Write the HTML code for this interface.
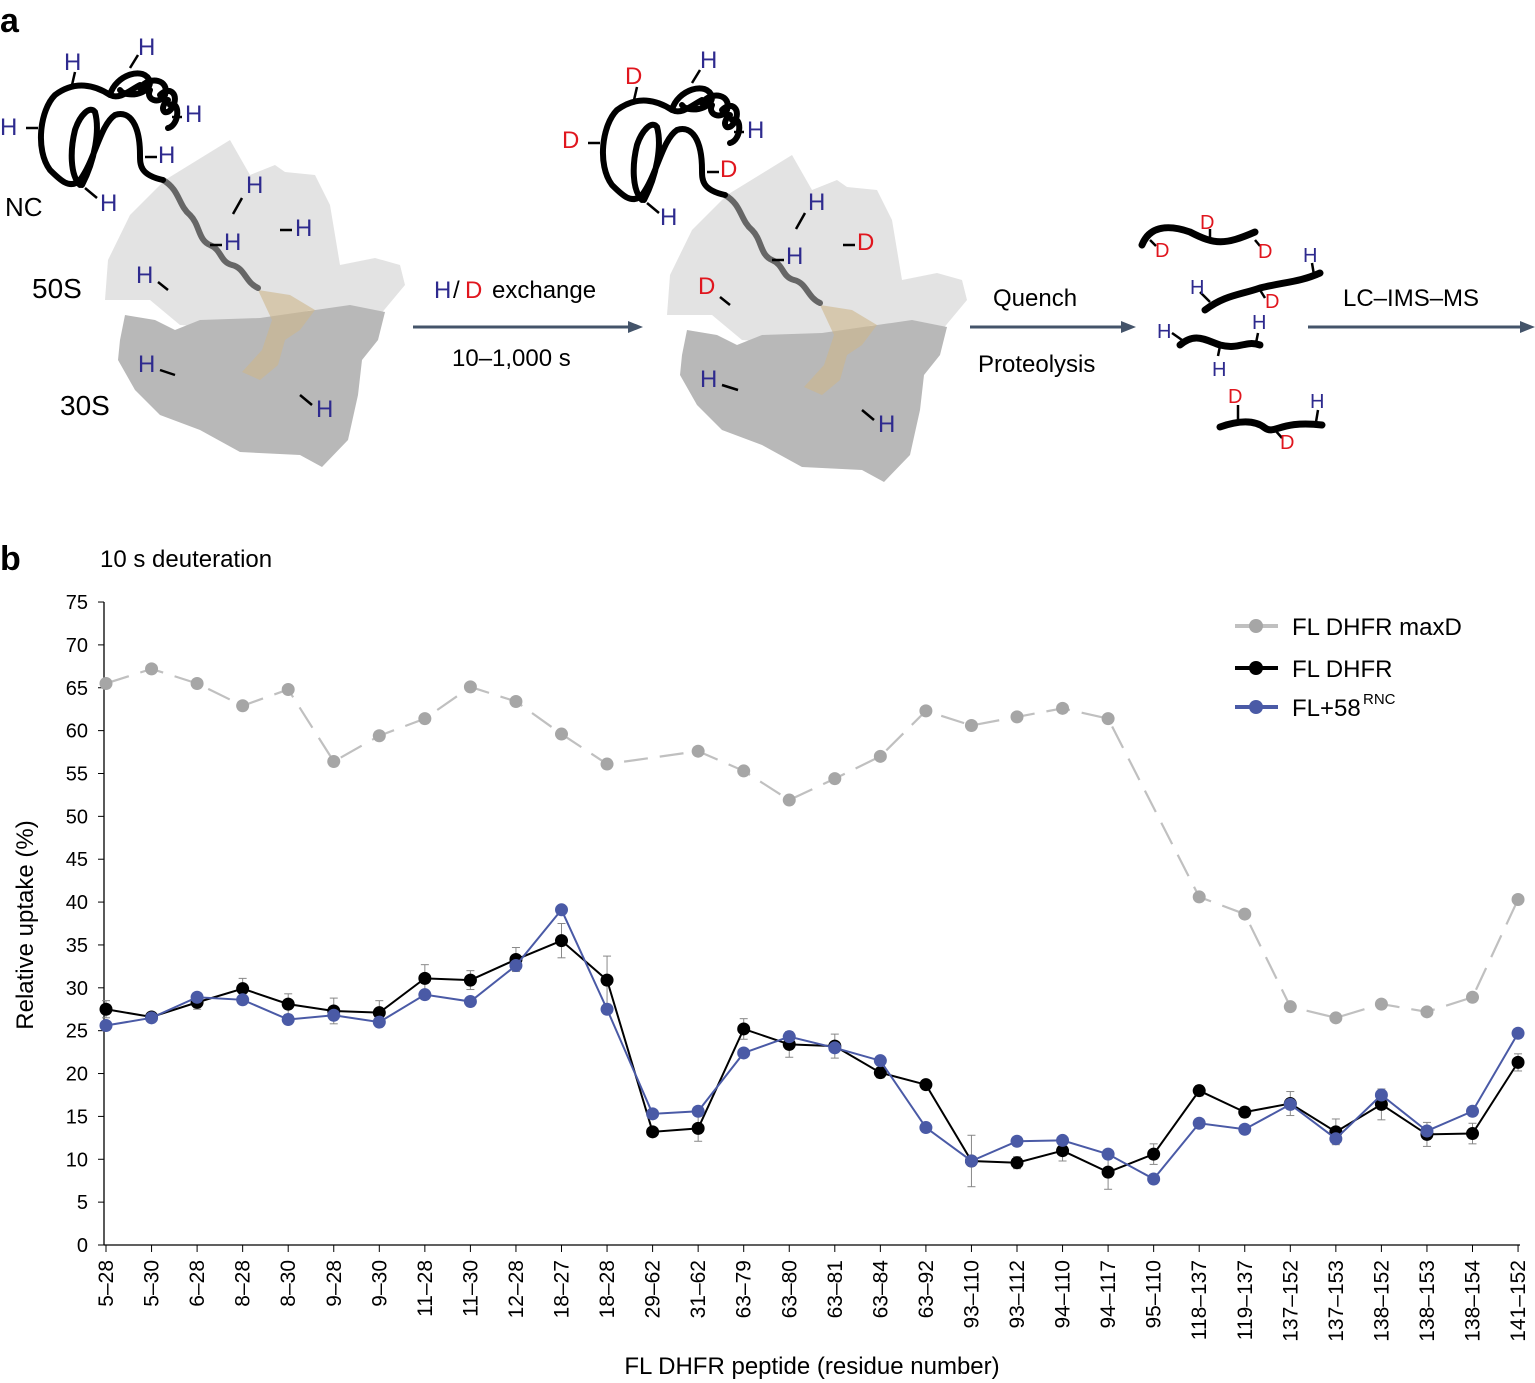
<!DOCTYPE html>
<html><head><meta charset="utf-8"><style>
body{margin:0;background:#fff;}
svg{display:block;font-family:"Liberation Sans",sans-serif;}
</style></head><body>
<svg id="s" width="1535" height="1383" viewBox="0 0 1535 1383" xmlns="http://www.w3.org/2000/svg">
<text x="0" y="32" font-size="34" font-weight="bold">a</text>
<text x="0" y="570" font-size="34" font-weight="bold">b</text>
<g id="ribo">
<polygon fill="#e3e3e3" points="165,180 230,140 250,175 275,165 285,172 315,175 330,205 340,265 375,258 400,265 405,285 380,315 310,310 250,330 180,325 150,300 105,300 108,260 130,215"/>
<polygon fill="#b8b8b8" points="125,315 155,320 175,330 200,320 260,318 350,305 385,312 378,340 362,360 358,395 348,440 322,467 300,455 240,452 200,430 160,415 135,390 118,360 120,340"/>
<path d="M258,290 L290,295 L315,310 L300,330 L285,340 L278,365 L260,380 L242,372 L262,350 L272,320 Z" fill="#cdb58a" opacity="0.6"/>
<path d="M163,180 C180,190 178,205 190,215 C200,225 198,240 210,245 C222,250 220,262 232,265 C245,268 245,282 258,288" fill="none" stroke="#666" stroke-width="6" stroke-linecap="round"/>
<path d="M163,180 C140,175 140,165 140,155 C140,125 130,110 115,115 C100,125 95,160 80,180 C70,190 60,180 50,170 C35,150 40,110 55,95 C75,80 95,85 110,95 C120,100 130,90 140,85 M82,185 C95,160 100,130 95,112 C90,105 80,115 75,130 C70,150 70,175 80,185" fill="none" stroke="#000" stroke-width="6" stroke-linecap="round"/>
<path d="M110,95 C115,75 145,65 150,82 C150,95 125,98 120,90 M140,88 C150,75 170,80 165,95 C160,105 145,100 150,90 M160,95 C170,85 180,95 172,108 C165,118 158,108 168,100 M170,105 C180,100 180,125 168,128" fill="none" stroke="#000" stroke-width="6" stroke-linecap="round"/>
</g>
<use href="#ribo" transform="translate(562,15)"/>
<g font-size="24" fill="#2e2a8e">
<text x="64" y="70">H</text><text x="138" y="55">H</text><text x="0" y="135">H</text><text x="185" y="122">H</text><text x="158" y="163">H</text><text x="100" y="211">H</text>
<text x="246" y="193">H</text><text x="295" y="236">H</text><text x="224" y="250">H</text><text x="136" y="283">H</text><text x="138" y="372">H</text><text x="316" y="417">H</text>
<text x="700" y="68">H</text><text x="747" y="138">H</text><text x="660" y="225">H</text><text x="808" y="210">H</text><text x="786" y="264">H</text><text x="700" y="387">H</text><text x="878" y="432">H</text>
<text x="434" y="298">H</text>
</g>
<g font-size="24" fill="#e0161e">
<text x="625" y="84">D</text><text x="562" y="148">D</text><text x="720" y="177">D</text><text x="857" y="250">D</text><text x="698" y="294">D</text>
<text x="465" y="298">D</text>
</g>
<g stroke="#000" stroke-width="2.5">
<line x1="75" y1="72" x2="72" y2="85"/><line x1="138" y1="55" x2="130" y2="68"/><line x1="26" y1="128" x2="38" y2="128"/><line x1="172" y1="117" x2="182" y2="117"/><line x1="145" y1="157" x2="157" y2="157"/><line x1="85" y1="188" x2="97" y2="198"/>
<line x1="242" y1="198" x2="233" y2="214"/><line x1="280" y1="230" x2="292" y2="230"/><line x1="210" y1="245" x2="222" y2="245"/><line x1="158" y1="282" x2="168" y2="290"/><line x1="160" y1="370" x2="175" y2="375"/><line x1="300" y1="395" x2="312" y2="405"/>
<line x1="637" y1="87" x2="634" y2="100"/><line x1="700" y1="70" x2="692" y2="83"/><line x1="588" y1="143" x2="600" y2="143"/><line x1="734" y1="132" x2="744" y2="132"/><line x1="707" y1="172" x2="719" y2="172"/><line x1="647" y1="203" x2="659" y2="213"/>
<line x1="805" y1="213" x2="796" y2="229"/><line x1="843" y1="245" x2="855" y2="245"/><line x1="772" y1="260" x2="784" y2="260"/><line x1="720" y1="297" x2="730" y2="305"/><line x1="722" y1="385" x2="738" y2="390"/><line x1="862" y1="410" x2="874" y2="420"/>
</g>
<text x="5" y="216" font-size="26">NC</text><text x="32" y="298" font-size="28">50S</text><text x="60" y="415" font-size="28">30S</text>
<text x="453" y="298" font-size="24" fill="#000">/</text><text x="492" y="298" font-size="24">exchange</text>
<text x="452" y="366" font-size="24">10–1,000 s</text>
<text x="993" y="306" font-size="24">Quench</text><text x="978" y="372" font-size="24">Proteolysis</text>
<text x="1343" y="306" font-size="24">LC–IMS–MS</text>
<g stroke="#44546a" stroke-width="3" fill="#44546a">
<line x1="413" y1="327" x2="635" y2="327"/><polygon points="643,327 628,321 628,333" stroke="none"/>
<line x1="970" y1="327" x2="1128" y2="327"/><polygon points="1136,327 1121,321 1121,333" stroke="none"/>
<line x1="1308" y1="327" x2="1525" y2="327"/><polygon points="1535,327 1520,321 1520,333" stroke="none"/>
</g>
<g fill="none" stroke="#000" stroke-width="7" stroke-linecap="round">
<path d="M1142,245 C1150,225 1170,225 1190,232 C1215,245 1225,245 1255,232"/>
<path d="M1205,310 C1225,295 1240,295 1260,288 C1285,282 1300,282 1320,273"/>
<path d="M1180,345 C1195,332 1205,340 1220,345 C1240,350 1245,340 1260,345"/>
<path d="M1220,427 C1240,420 1255,420 1265,428 C1275,435 1280,420 1322,425"/>
</g>
<g stroke="#000" stroke-width="2.5">
<line x1="1150" y1="240" x2="1156" y2="246"/><line x1="1210" y1="229" x2="1210" y2="238"/><line x1="1255" y1="240" x2="1260" y2="246"/>
<line x1="1312" y1="263" x2="1314" y2="275"/><line x1="1200" y1="292" x2="1210" y2="302"/><line x1="1260" y1="290" x2="1265" y2="298"/>
<line x1="1172" y1="333" x2="1182" y2="340"/><line x1="1258" y1="333" x2="1256" y2="343"/><line x1="1220" y1="346" x2="1218" y2="356"/>
<line x1="1238" y1="405" x2="1238" y2="420"/><line x1="1318" y1="410" x2="1316" y2="422"/><line x1="1275" y1="430" x2="1282" y2="438"/>
</g>
<g font-size="20" fill="#e0161e"><text x="1155" y="257">D</text><text x="1200" y="229">D</text><text x="1258" y="258">D</text><text x="1265" y="308">D</text><text x="1228" y="403">D</text><text x="1280" y="449">D</text></g>
<g font-size="20" fill="#2e2a8e"><text x="1303" y="262">H</text><text x="1190" y="294">H</text><text x="1157" y="338">H</text><text x="1252" y="329">H</text><text x="1212" y="376">H</text><text x="1310" y="408">H</text></g>
<text x="100" y="567" font-size="24">10 s deuteration</text>
<g id="chart"></g>
</svg>
<script>
var g=document.getElementById('chart'),ns='http://www.w3.org/2000/svg';
function el(t,a,txt){var e=document.createElementNS(ns,t);for(var k in a)e.setAttribute(k,a[k]);if(txt!=null)e.textContent=txt;g.appendChild(e);return e;}
var labs=["5–28","5–30","6–28","8–28","8–30","9–28","9–30","11–28","11–30","12–28","18–27","18–28","29–62","31–62","63–79","63–80","63–81","63–84","63–92","93–110","93–112","94–110","94–117","95–110","118–137","119–137","137–152","137–153","138–152","138–153","138–154","141–152"];
var gray=[65.5,67.2,65.5,62.9,64.8,56.4,59.4,61.4,65.1,63.4,59.6,56.1,null,57.6,55.3,51.9,54.4,57.0,62.3,60.6,61.6,62.6,61.4,null,40.6,38.6,27.8,26.5,28.1,27.2,28.9,40.3];
var blk=[27.5,26.6,28.3,29.9,28.1,27.3,27.1,31.1,30.9,33.3,35.5,30.9,13.2,13.6,25.2,23.4,23.2,20.1,18.7,9.8,9.6,11.0,8.5,10.6,18.0,15.5,16.5,13.2,16.4,12.9,13.0,21.3];
var blu=[25.6,26.5,28.9,28.6,26.3,26.8,26.0,29.2,28.4,32.6,39.1,27.5,15.3,15.6,22.4,24.3,23.0,21.5,13.7,9.8,12.1,12.2,10.6,7.7,14.2,13.5,16.4,12.4,17.5,13.3,15.6,24.7];
var err=[1,0.5,0.8,1.2,1.2,1.5,1.4,1.6,1.1,1.4,2,2.8,0.5,1.5,1.2,1.5,1.4,0.6,0.5,3,0.7,1.2,2,1.2,0.6,0.6,1.4,1.5,1.8,1.4,1.2,1];
function X(i){return 106+i*45.55}function Y(v){return 1245-v*8.573}
el('line',{x1:104,y1:602,x2:104,y2:1245,stroke:'#000','stroke-width':1.3});
el('line',{x1:104,y1:1245,x2:1520,y2:1245,stroke:'#000','stroke-width':1.3});
for(var v=0;v<=75;v+=5){el('line',{x1:98,y1:Y(v),x2:104,y2:Y(v),stroke:'#000'});el('text',{x:88,y:Y(v)+7,'text-anchor':'end','font-size':20},v);}
labs.forEach(function(l,i){el('line',{x1:X(i),y1:1245,x2:X(i),y2:1252,stroke:'#000'});el('text',{transform:'translate('+(X(i)+7)+',1260) rotate(-90)','text-anchor':'end','font-size':21},l);});
el('text',{x:812,y:1374,'text-anchor':'middle','font-size':24},'FL DHFR peptide (residue number)');
el('text',{transform:'translate(33,925) rotate(-90)','text-anchor':'middle','font-size':24},'Relative uptake (%)');
var pts=[];gray.forEach(function(v,i){if(v!=null)pts.push(X(i)+','+Y(v));});
el('polyline',{points:pts.join(' '),fill:'none',stroke:'#c0c0c0','stroke-width':2.2,'stroke-dasharray':'24,12'});
gray.forEach(function(v,i){if(v!=null)el('circle',{cx:X(i),cy:Y(v),r:6.5,fill:'#a6a6a6'});});
blk.forEach(function(v,i){el('line',{x1:X(i),y1:Y(v+err[i]),x2:X(i),y2:Y(v-err[i]),stroke:'#888'});el('line',{x1:X(i)-4,y1:Y(v+err[i]),x2:X(i)+4,y2:Y(v+err[i]),stroke:'#888'});el('line',{x1:X(i)-4,y1:Y(v-err[i]),x2:X(i)+4,y2:Y(v-err[i]),stroke:'#888'});});
el('polyline',{points:blk.map(function(v,i){return X(i)+','+Y(v)}).join(' '),fill:'none',stroke:'#000','stroke-width':2});
blk.forEach(function(v,i){el('circle',{cx:X(i),cy:Y(v),r:6.5,fill:'#000'});});
el('polyline',{points:blu.map(function(v,i){return X(i)+','+Y(v)}).join(' '),fill:'none',stroke:'#4a5aa6','stroke-width':2});
blu.forEach(function(v,i){el('circle',{cx:X(i),cy:Y(v),r:6.5,fill:'#4a5aa6'});});
[[626,'#c0c0c0','#a6a6a6','FL DHFR maxD'],[668,'#000','#000','FL DHFR'],[707,'#4a5aa6','#4a5aa6','FL+58']].forEach(function(r){
el('line',{x1:1235,y1:r[0],x2:1278,y2:r[0],stroke:r[1],'stroke-width':4});el('circle',{cx:1256,cy:r[0],r:7,fill:r[2]});
el('text',{x:1292,y:r[0]+9,'font-size':24},r[3]);});
el('text',{x:1363,y:704,'font-size':15},'RNC');
</script>
</body></html>
